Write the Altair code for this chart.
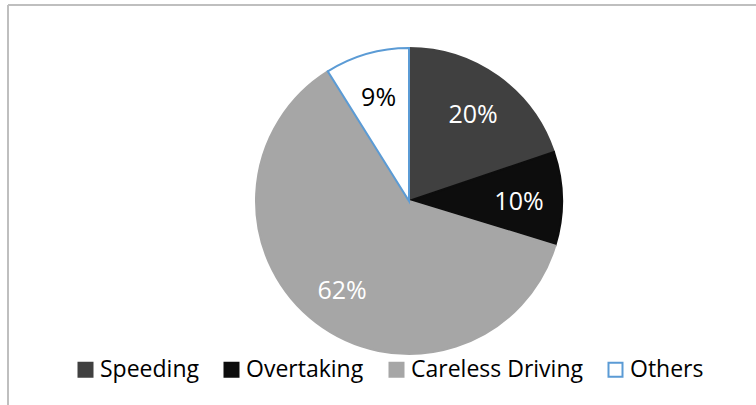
import altair as alt
import pandas as pd

categories = ["Speeding", "Overtaking", "Careless Driving", "Others"]
values = [20, 10, 62, 9]
labels = ["20%", "10%", "62%", "9%"]
order = [0, 1, 2, 3]
fill_colors = ["#404040", "#0D0D0D", "#A6A6A6", "#FFFFFF"]
stroke_colors = ["#404040", "#0D0D0D", "#A6A6A6", "#5B9BD5"]

df = pd.DataFrame({"category": categories, "value": values, "label": labels, "idx": order})

CX, CY, R = 409, 201, 153

base = alt.Chart(df).encode(
    theta=alt.Theta("value:Q", stack=True),
    order=alt.Order("idx:Q"),
)

fill_enc = alt.Fill(
    "category:N",
    scale=alt.Scale(domain=categories, range=fill_colors),
    sort=categories,
    legend=alt.Legend(
        title=None,
        orient="none",
        direction="horizontal",
        legendX=74,
        legendY=358,
        symbolType="square",
        symbolSize=196,
        symbolStrokeWidth=2,
        labelFont="Open Sans",
        labelFontSize=23,
        labelColor="#000000",
        labelOffset=3,
        labelLimit=0,
        columnPadding=21,
    ),
)
stroke_enc = alt.Stroke(
    "category:N",
    scale=alt.Scale(domain=categories, range=stroke_colors),
    sort=categories,
)

arcs = base.mark_arc(outerRadius=R, strokeWidth=2).encode(
    fill=fill_enc,
    stroke=stroke_enc,
    x=alt.value(CX),
    y=alt.value(CY),
)

text = base.mark_text(radius=110, font="Open Sans", fontSize=25, dy=3).encode(
    text="label:N",
    color=alt.condition("datum.category == 'Others'", alt.value("#000000"), alt.value("#FFFFFF")),
    x=alt.value(CX),
    y=alt.value(CY),
)

frame_top = alt.Chart(df).mark_rule(color="#BFBFBF", strokeWidth=1.5).encode(
    x=alt.value(8), x2=alt.value(756), y=alt.value(5)
)
frame_left = alt.Chart(df).mark_rule(color="#BFBFBF", strokeWidth=1.5).encode(
    x=alt.value(8), y=alt.value(5), y2=alt.value(405)
)

chart = alt.layer(frame_top, frame_left, arcs, text).properties(
    width=756, height=405, background="#FFFFFF", padding=0,
    autosize=alt.AutoSizeParams(type="none"),
).configure_view(stroke=None)

chart.save("out.html", embed_options={"renderer": "svg", "actions": False})
